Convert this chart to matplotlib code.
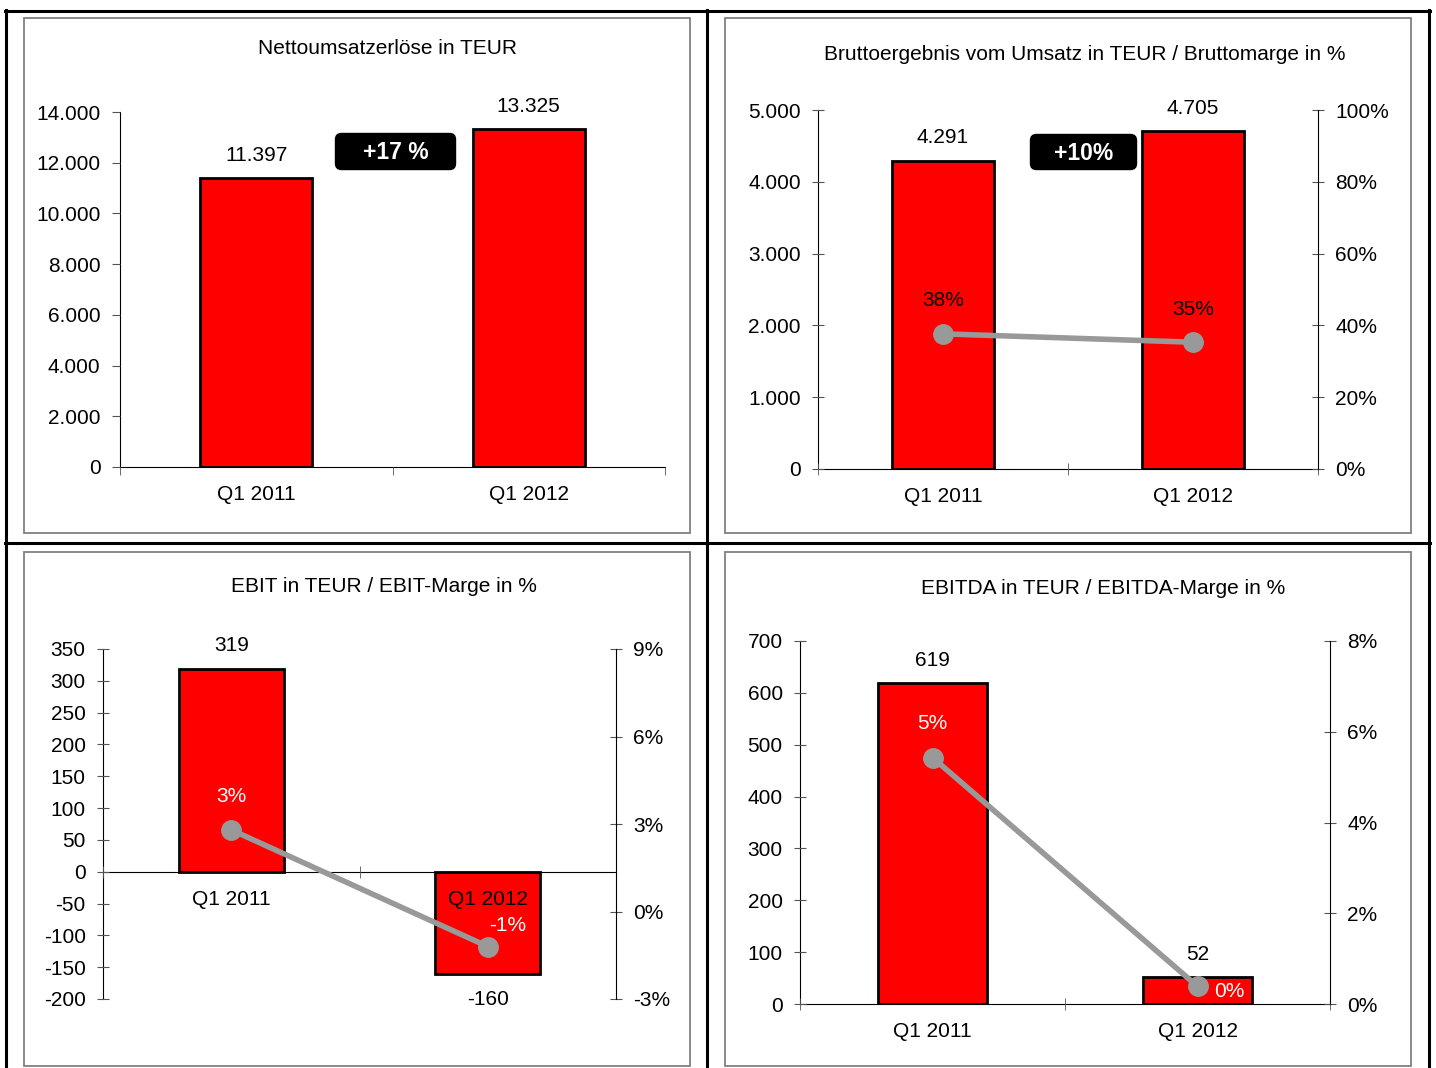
import matplotlib.pyplot as plt
from matplotlib.patches import Rectangle, FancyBboxPatch
from matplotlib.lines import Line2D
from matplotlib.ticker import FuncFormatter

plt.rcParams["font.family"] = ["Liberation Sans", "DejaVu Sans"]

# --------------------------------------------------
# Data (TEUR)
# --------------------------------------------------

quarters = ["Q1 2011", "Q1 2012"]

revenue = [11397, 13325]
gross_profit = [4291, 4705]
ebit = [319, -160]
ebitda = [619, 52]

gross_margin = [g / r * 100 for g, r in zip(gross_profit, revenue)]
ebit_margin = [e / r * 100 for e, r in zip(ebit, revenue)]
ebitda_margin = [e / r * 100 for e, r in zip(ebitda, revenue)]

revenue_growth = "+17 %"
gross_growth = "+10%"

# --------------------------------------------------
# Figure in pixel units
# --------------------------------------------------

W, H = 1436, 1068
fig = plt.figure(figsize=(W / 100, H / 100), dpi=100)

RED = "#ff0000"
GREY_LINE = "#999999"
FS = 15


def px_axes(x0, y0, x1, y1):
    return fig.add_axes([x0 / W, 1 - y1 / H, (x1 - x0) / W, (y1 - y0) / H])


def thousands(v, pos=None):
    return f"{v:,.0f}".replace(",", ".")


def pct(v, pos=None):
    return f"{v:.0f}%"


def frame_box(x0, y0, x1, y1, color, lw):
    fig.patches.append(Rectangle((x0 / W, 1 - y1 / H), (x1 - x0) / W,
                                 (y1 - y0) / H, transform=fig.transFigure,
                                 fill=False, edgecolor=color, linewidth=lw))


def fig_line(xs, ys, lw=2.2):
    fig.lines.append(Line2D([x / W for x in xs], [1 - y / H for y in ys],
                            transform=fig.transFigure, color="black",
                            linewidth=lw))


def bar_panel(rect, ylim, yticks, values, tickdir="inout", zero_axis=False):
    ax = px_axes(*rect)
    ax.bar([0, 1], values, width=0.41, color=RED,
           edgecolor="black", linewidth=2, zorder=2)
    ax.set_axisbelow(False)
    ax.set_xlim(-0.5, 1.5)
    ax.set_ylim(*ylim)
    ax.set_yticks(yticks)
    ax.yaxis.set_major_formatter(FuncFormatter(thousands))
    for side in ["top", "right"]:
        ax.spines[side].set_visible(False)
    ax.spines["left"].set_color("black")
    ax.spines["bottom"].set_color("black")
    if zero_axis:
        ax.spines["bottom"].set_position(("data", 0))
    ax.set_xticks([0, 1])
    ax.set_xticklabels(quarters)
    ax.set_xticks([-0.5, 0.5, 1.5], minor=True)
    ax.tick_params(axis="x", which="major", length=0, pad=13, labelsize=FS)
    ax.tick_params(axis="x", which="minor", direction=tickdir,
                   length=9 if tickdir == "inout" else 6, color="#555555")
    ax.tick_params(axis="y", direction=tickdir,
                   length=9 if tickdir == "inout" else 6,
                   color="#555555", pad=8, labelsize=FS)
    ax.patch.set_alpha(0)
    return ax


def value_labels(ax, values):
    for i, v in enumerate(values):
        off = 23 if v >= 0 else -26
        ax.annotate(thousands(v), (i, v), xytext=(0, off),
                    textcoords="offset pixels", ha="center", va="center",
                    fontsize=FS)


def margin_line(ax, ylim, yticks, margins, offsets, colors):
    ax2 = ax.twinx()
    ax2.set_ylim(*ylim)
    ax2.set_yticks(yticks)
    ax2.yaxis.set_major_formatter(FuncFormatter(pct))
    for side in ["top", "left", "bottom"]:
        ax2.spines[side].set_visible(False)
    ax2.spines["right"].set_color("black")
    ax2.tick_params(axis="y", direction="inout", length=9,
                    color="#555555", pad=8, labelsize=FS)
    ax2.plot([0, 1], margins, color=GREY_LINE, linewidth=4,
             marker="o", markersize=14, solid_capstyle="round", zorder=3)
    for i, m in enumerate(margins):
        ax2.annotate(f"{m:.0f}%", (i, m), xytext=offsets[i],
                     textcoords="offset pixels", ha="center", va="center",
                     fontsize=FS, color=colors[i])
    return ax2


def badge(x0, y0, x1, y1, text):
    bx = px_axes(x0, y0, x1, y1)
    bx.set_xlim(0, x1 - x0)
    bx.set_ylim(0, y1 - y0)
    bx.axis("off")
    bx.add_patch(FancyBboxPatch((0.5, 0.5), x1 - x0 - 1, y1 - y0 - 1,
                                boxstyle="round,pad=0,rounding_size=6",
                                facecolor="black", edgecolor="black",
                                clip_on=False))
    bx.text((x1 - x0) / 2, (y1 - y0) / 2 - 1, text, ha="center",
            va="center", fontsize=16.5, fontweight="bold", color="white")


# --------------------------------------------------
# Outer frame and panel boxes
# --------------------------------------------------

fig_line([6, 6], [10, 1068])
fig_line([707, 707], [10, 1068])
fig_line([1429, 1429], [10, 1068])
fig_line([5, 1430], [11, 11])
fig_line([5, 1430], [543, 543])

frame_box(24, 18, 690, 533, "#808080", 1.3)
frame_box(725, 18, 1411, 533, "#808080", 1.3)
frame_box(24, 552, 690, 1066, "#808080", 1.3)
frame_box(725, 552, 1411, 1066, "#808080", 1.3)

# --------------------------------------------------
# Net revenue
# --------------------------------------------------

ax1 = bar_panel((120, 112, 665, 467), (0, 14000),
                range(0, 14001, 2000), revenue, tickdir="out")
value_labels(ax1, revenue)
fig.text(387 / W, 1 - 48 / H, "Nettoumsatzerlöse in TEUR",
         ha="center", va="center", fontsize=FS)
badge(335, 133, 456, 170, revenue_growth)

# --------------------------------------------------
# Gross profit / gross margin
# --------------------------------------------------

ax2 = bar_panel((818, 110, 1318, 469), (0, 5000),
                range(0, 5001, 1000), gross_profit)
value_labels(ax2, gross_profit)
margin_line(ax2, (0, 100), range(0, 101, 20), gross_margin,
            [(0, 33), (0, 33)], ["black", "black"])
fig.text(1085 / W, 1 - 54 / H,
         "Bruttoergebnis vom Umsatz in TEUR / Bruttomarge in %",
         ha="center", va="center", fontsize=FS)
badge(1030, 134, 1137, 170, gross_growth)

# --------------------------------------------------
# EBIT / EBIT margin
# --------------------------------------------------

ax3 = bar_panel((103, 649, 616, 999), (-200, 350),
                range(-200, 351, 50), ebit, zero_axis=True)
value_labels(ax3, ebit)
margin_line(ax3, (-3, 9), range(-3, 10, 3), ebit_margin,
            [(0, 33), (20, 21)], ["white", "white"])
fig.text(384 / W, 1 - 586 / H, "EBIT in TEUR / EBIT-Marge in %",
         ha="center", va="center", fontsize=FS)

# --------------------------------------------------
# EBITDA / EBITDA margin
# --------------------------------------------------

ax4 = bar_panel((800, 641, 1330, 1004), (0, 700),
                range(0, 701, 100), ebitda)
value_labels(ax4, ebitda)
margin_line(ax4, (0, 8), range(0, 9, 2), ebitda_margin,
            [(0, 34), (32, -5)], ["white", "white"])
fig.text(1103 / W, 1 - 588 / H, "EBITDA in TEUR / EBITDA-Marge in %",
         ha="center", va="center", fontsize=FS)

fig.savefig("out.png", dpi=100)
